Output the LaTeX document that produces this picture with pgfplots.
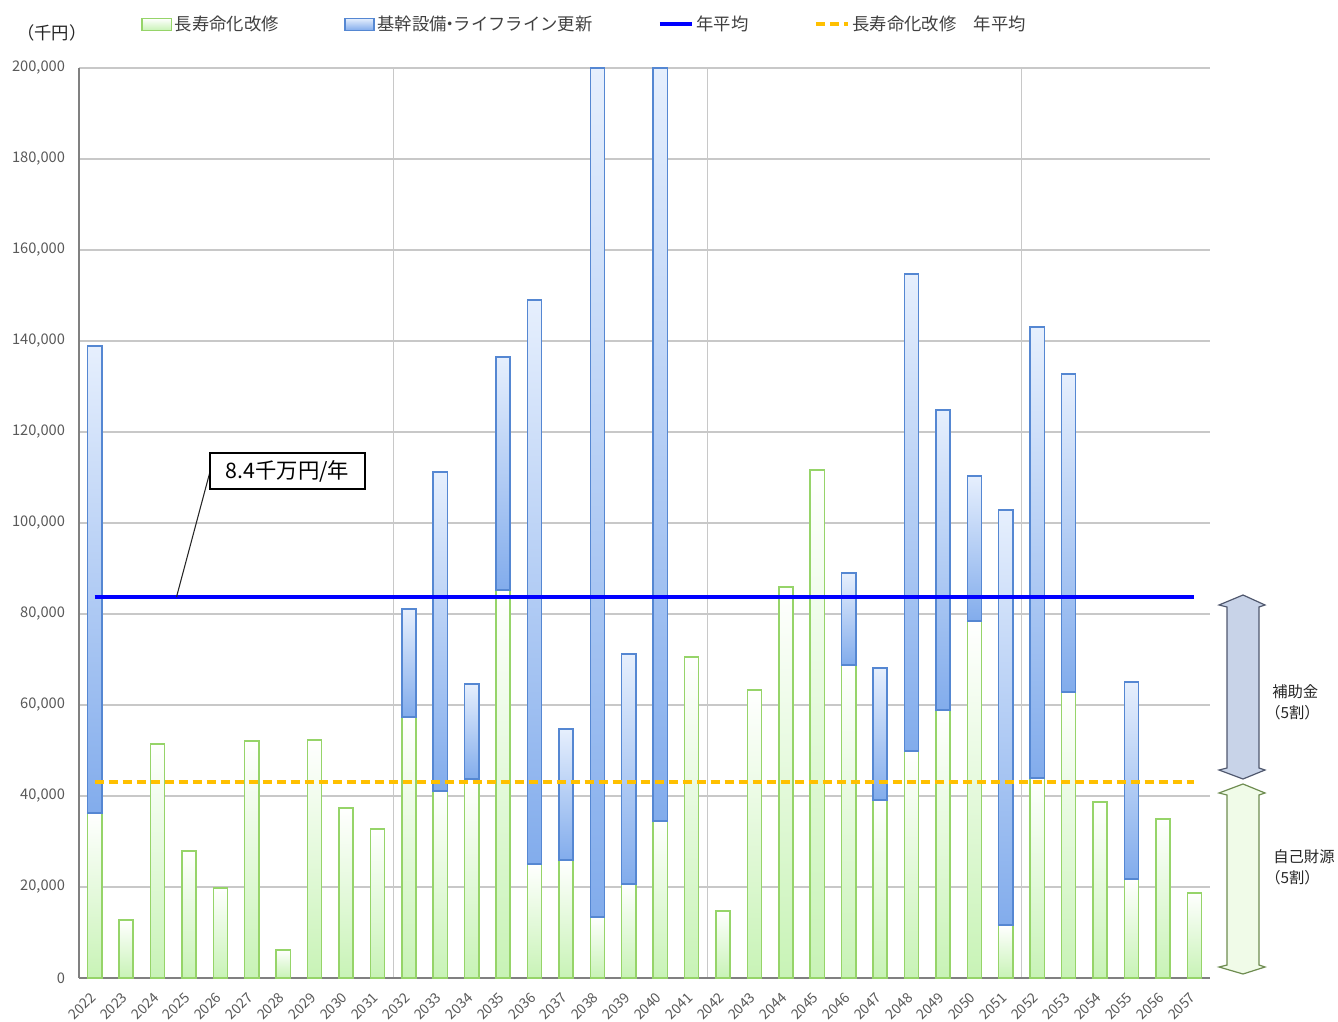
\documentclass[border=0pt]{standalone}
\usepackage{fontspec}
\setmainfont{Noto Sans CJK JP}
\usepackage{pgfplots}
\pgfplotsset{compat=1.18}
\definecolor{greenborder}{RGB}{150,212,105}
\definecolor{greenfill}{RGB}{200,243,182}
\definecolor{blueborder}{RGB}{85,135,210}
\definecolor{bluetop}{RGB}{230,239,253}
\definecolor{bluebottom}{RGB}{130,172,236}
\definecolor{avgblue}{RGB}{0,0,255}
\definecolor{avgorange}{RGB}{255,192,0}
\definecolor{gridgray}{RGB}{200,200,200}
\definecolor{axisgray}{RGB}{128,128,128}
\definecolor{labelgray}{RGB}{89,89,89}
\definecolor{legendgray}{RGB}{64,64,64}
\pgfplotsset{
  base/.style={at={(0pt,0pt)}, anchor=south west, scale only axis,
    width=848.25pt, height=682.5pt, xmin=-0.5, xmax=35.5, ymin=0, ymax=200000},
  gstyle/.style={draw=greenborder, line width=1.1pt, top color=white, bottom color=greenfill, bar shift=0pt},
  bstyle/.style={draw=blueborder, line width=1.1pt, top color=bluetop, bottom color=bluebottom},
  myarea/.style={legend image code/.code={\draw[##1] (0pt,-4.5pt) rectangle (22pt,4.5pt);}},
  myline/.style={legend image code/.code={\draw[##1] (0pt,0pt) -- (24pt,0pt);}},
}
% one green bar (year index, 長寿命化改修)
\newcommand{\gbar}[2]{\addplot[gstyle] coordinates {(#1,#2)};}
% one blue segment (year index, 長寿命化改修 below it, 基幹設備・ライフライン更新)
\newcommand{\bbar}[3]{%
\begin{axis}[base, hide axis, ybar stacked, bar width=0.45]
\addplot[draw=none, fill=none] coordinates {(#1,#2)};
\addplot[bstyle] coordinates {(#1,#3)};
\end{axis}}
\begin{document}
\begin{tikzpicture}
\useasboundingbox (-59.25pt,-32.25pt) rectangle (944.25pt,733.5pt);
% axis 1: grid, axes, green bars
\begin{axis}[base,
  ybar, bar width=0.45,
  axis x line*=bottom, axis y line*=left,
  axis line style={draw=axisgray, line width=1.6pt},
  major tick length=0pt, minor tick length=0pt,
  ytick={0,20000,...,200000},
  ymajorgrids,
  grid style={draw=gridgray, line width=0.9pt},
  xtick={0,...,35},
  xticklabels={2022,2023,2024,2025,2026,2027,2028,2029,2030,2031,2032,2033,2034,2035,2036,2037,2038,2039,2040,2041,2042,2043,2044,2045,2046,2047,2048,2049,2050,2051,2052,2053,2054,2055,2056,2057},
  minor xtick={9.5,19.5,29.5},
  xminorgrids,
  minor grid style={draw=gridgray, line width=0.9pt},
  scaled y ticks=false,
  yticklabel style={/pgf/number format/fixed, /pgf/number format/precision=0,
    /pgf/number format/1000 sep={,}, /pgf/number format/assume math mode=true,
    font=\fontsize{11}{13}\selectfont, text=labelgray, xshift=-7pt},
  xticklabel style={font=\fontsize{10.5}{12}\selectfont, text=labelgray, xshift=-1pt, yshift=-12.8pt, rotate=45, anchor=east, inner sep=0pt},
]
\gbar{0}{36300} \gbar{1}{12700} \gbar{2}{51400} \gbar{3}{27900} \gbar{4}{19800}
\gbar{5}{52100} \gbar{6}{6200} \gbar{7}{52300} \gbar{8}{37400} \gbar{9}{32700}
\gbar{10}{57400} \gbar{11}{41100} \gbar{12}{43700} \gbar{13}{85300} \gbar{14}{25100}
\gbar{15}{25900} \gbar{16}{13400} \gbar{17}{20700} \gbar{18}{34500} \gbar{19}{70500}
\gbar{20}{14700} \gbar{21}{63300} \gbar{22}{85900} \gbar{23}{111600} \gbar{24}{68800}
\gbar{25}{39100} \gbar{26}{49900} \gbar{27}{58900} \gbar{28}{78500} \gbar{29}{11600}
\gbar{30}{44000} \gbar{31}{62900} \gbar{32}{38700} \gbar{33}{21800} \gbar{34}{34900}
\gbar{35}{18700}
\end{axis}
% blue segments, each stacked on its green value
\bbar{0}{36300}{102600}
\bbar{10}{57400}{23700}
\bbar{11}{41100}{70100}
\bbar{12}{43700}{20900}
\bbar{13}{85300}{51200}
\bbar{14}{25100}{123900}
\bbar{15}{25900}{28800}
\bbar{16}{13400}{186600}
\bbar{17}{20700}{50500}
\bbar{18}{34500}{165500}
\bbar{24}{68800}{20200}
\bbar{25}{39100}{29000}
\bbar{26}{49900}{104800}
\bbar{27}{58900}{65900}
\bbar{28}{78500}{31800}
\bbar{29}{11600}{91300}
\bbar{30}{44000}{99100}
\bbar{31}{62900}{69800}
\bbar{33}{21800}{43300}
% axis 3: averages and legend
\begin{axis}[base, hide axis, clip=false,
  legend columns=4,
  legend style={draw=none, fill=none, at={(axis description cs:0.0548,1.048)}, anchor=west,
    font=\fontsize{13}{15}\selectfont, text=legendgray, inner sep=0pt,
    /tikz/every even column/.append style={column sep=47pt}},
  legend cell align=left,
]
\addlegendimage{myarea, draw=greenborder, line width=1.1pt, top color=white, bottom color=greenfill}
\addlegendentry{長寿命化改修}
\addlegendimage{myarea, draw=blueborder, line width=1.1pt, top color=bluetop, bottom color=bluebottom}
\addlegendentry{基幹設備\kern-0.3em・\kern-0.3em ライフライン更新}
\addplot[myline, avgblue, line width=3pt] coordinates {(0,83800) (35,83800)};
\addlegendentry{年平均}
\addplot[myline, avgorange, line width=3pt, dash pattern=on 7pt off 3.5pt] coordinates {(0,43000) (35,43000)};
\addlegendentry{長寿命化改修　年平均}
\end{axis}
% annotations in pixel coordinates of the reference
\begin{scope}[x=0.75pt, y=-0.75pt, shift={(-59.25pt,733.5pt)}]
\draw[black!85, line width=0.8pt] (210,471.7) -- (176.5,597);
\node[draw=black, line width=0.9pt, fill=white, minimum width=116.25pt, minimum height=27pt, inner sep=0pt,
  font=\fontsize{16}{18}\selectfont] at (287.5,471) {8.4千万円/年};
\node[font=\fontsize{13}{15}\selectfont, text=black!85] at (52,33) {（千円）};
\filldraw[fill={rgb,255:red,200;green,211;blue,232}, draw={rgb,255:red,80;green,88;blue,110}, line width=0.9pt]
 (1243,595) -- (1265,605) -- (1259,607) -- (1259,768) -- (1265,770) -- (1243,779) -- (1219,770) -- (1227,768) -- (1227,607) -- (1219,605) -- cycle;
\filldraw[fill={rgb,255:red,240;green,251;blue,232}, draw={rgb,255:red,110;green,140;blue,80}, line width=0.9pt]
 (1243,784) -- (1265,793) -- (1259,795) -- (1259,965) -- (1265,967) -- (1243,974) -- (1219,967) -- (1227,965) -- (1227,795) -- (1219,793) -- cycle;
\node[anchor=west, font=\fontsize{11.5}{13}\selectfont, text=black!85, inner sep=0pt] at (1272,692) {補助金};
\node[anchor=west, font=\fontsize{11.5}{13}\selectfont, text=black!85, inner sep=0pt] at (1265,713) {（5割）};
\node[anchor=west, font=\fontsize{11.5}{13}\selectfont, text=black!85, inner sep=0pt] at (1273,857) {自己財源};
\node[anchor=west, font=\fontsize{11.5}{13}\selectfont, text=black!85, inner sep=0pt] at (1265,878) {（5割）};
\end{scope}
\end{tikzpicture}
\end{document}
